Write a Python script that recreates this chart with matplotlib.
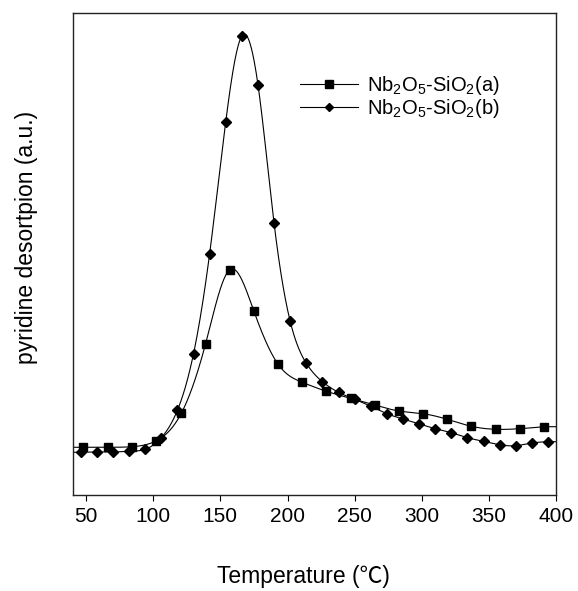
import numpy as np
import matplotlib
matplotlib.use('Agg')
import matplotlib.pyplot as plt

plt.rcParams['font.family'] = ['Liberation Sans', 'Noto Sans CJK SC', 'DejaVu Sans']
plt.rcParams['mathtext.fontset'] = 'custom'
plt.rcParams['mathtext.rm'] = 'Liberation Sans'
plt.rcParams['mathtext.it'] = 'Liberation Sans'

# Series a (squares)
temp_a = [48, 66, 84, 102, 121, 139, 157, 175, 193, 211, 229, 247, 265, 283,
          301, 319, 337, 355, 373, 391]
signal_a = [47.7, 47.7, 48.3, 54.0, 82.0, 151.3, 225.3, 183.7, 130.7, 112.7,
            103.7, 96.7, 90.0, 84.0, 81.3, 75.7, 68.7, 65.7, 66.3, 68.3]

# Series b (diamonds)
temp_b = [46, 58, 70, 82, 94, 106, 118, 130, 142, 154, 166, 178, 190, 202, 214,
          226, 238, 250, 262, 274, 286, 298, 310, 322, 334, 346, 358, 370, 382, 394]
signal_b = [42.7, 43.0, 43.0, 43.7, 45.7, 57.3, 84.7, 141.3, 241.3, 373.3,
            459.0, 410.3, 271.7, 173.7, 131.7, 113.3, 102.7, 95.7, 88.7, 81.3,
            76.0, 71.0, 66.3, 62.3, 57.3, 53.7, 50.3, 49.3, 52.0, 53.3]

label_a = 'Nb$_2$O$_5$-SiO$_2$(a)'
label_b = 'Nb$_2$O$_5$-SiO$_2$(b)'
xticks = [50, 100, 150, 200, 250, 300, 350, 400]
XMIN, XMAX = 40, 400


def natural_spline(x, y, xs):
    x = np.asarray(x, float)
    y = np.asarray(y, float)
    n = len(x)
    h = np.diff(x)
    A = np.zeros((n, n))
    r = np.zeros(n)
    A[0, 0] = 1
    A[-1, -1] = 1
    for i in range(1, n - 1):
        A[i, i - 1] = h[i - 1]
        A[i, i] = 2 * (h[i - 1] + h[i])
        A[i, i + 1] = h[i]
        r[i] = 3 * ((y[i + 1] - y[i]) / h[i] - (y[i] - y[i - 1]) / h[i - 1])
    c = np.linalg.solve(A, r)
    b = (y[1:] - y[:-1]) / h - h * (2 * c[:-1] + c[1:]) / 3
    d = (c[1:] - c[:-1]) / (3 * h)
    idx = np.clip(np.searchsorted(x, xs) - 1, 0, n - 2)
    dx = xs - x[idx]
    return y[idx] + b[idx] * dx + c[idx] * dx ** 2 + d[idx] * dx ** 3


def smooth(x, y):
    xs = np.linspace(x[0], x[-1], 800)
    ys = natural_spline(x, y, xs)
    xs = np.concatenate([[XMIN], xs, [XMAX]])
    ys = np.concatenate([[y[0]], ys, [y[-1]]])
    return xs, ys


fig = plt.figure(figsize=(5.78, 5.91), dpi=100)
ax = fig.add_axes([72.7 / 578, 1 - 495 / 591, (556 - 72.7) / 578, (495 - 13.3) / 591])

for t, s, mk, ms in [(temp_a, signal_a, 's', 5.9), (temp_b, signal_b, 'D', 4.6)]:
    xs, ys = smooth(t, s)
    ax.plot(xs, ys, color='black', lw=0.8, zorder=2)
    ax.plot(t, s, linestyle='none', marker=mk, ms=ms, color='black', zorder=3)

# legend handles
ha, = ax.plot([], [], color='black', lw=0.8, marker='s', ms=5.2)
hb, = ax.plot([], [], color='black', lw=0.8, marker='D', ms=3.9)
ax.legend([ha, hb], [label_a, label_b], loc='upper left',
          bbox_to_anchor=((300 - 72.7) / 483.3, (495 - 74) / 481.7),
          frameon=False, fontsize=14.5, handlelength=2.9, handletextpad=0.42,
          labelspacing=0.0, borderpad=0, borderaxespad=0, markerscale=1.0)

ax.set_xlim(XMIN, XMAX)
ax.set_ylim(0, 481.7)
ax.set_xticks(xticks)
ax.set_xticklabels([str(v) for v in xticks], fontsize=15)
ax.set_yticks([])
ax.tick_params(axis='x', direction='out', length=4, width=0.8, pad=4.5, top=False)
for sp in ax.spines.values():
    sp.set_linewidth(1.0)
    sp.set_color('#222222')

fig.text(303 / 578, 1 - 577 / 591, 'Temperature (℃)', ha='center', va='center', fontsize=16.5)
fig.text(27 / 578, 1 - 237 / 591, 'pyridine desortpion (a.u.)', ha='center', va='center',
         rotation=90, fontsize=16.5)

fig.savefig('out.png', dpi=100)
